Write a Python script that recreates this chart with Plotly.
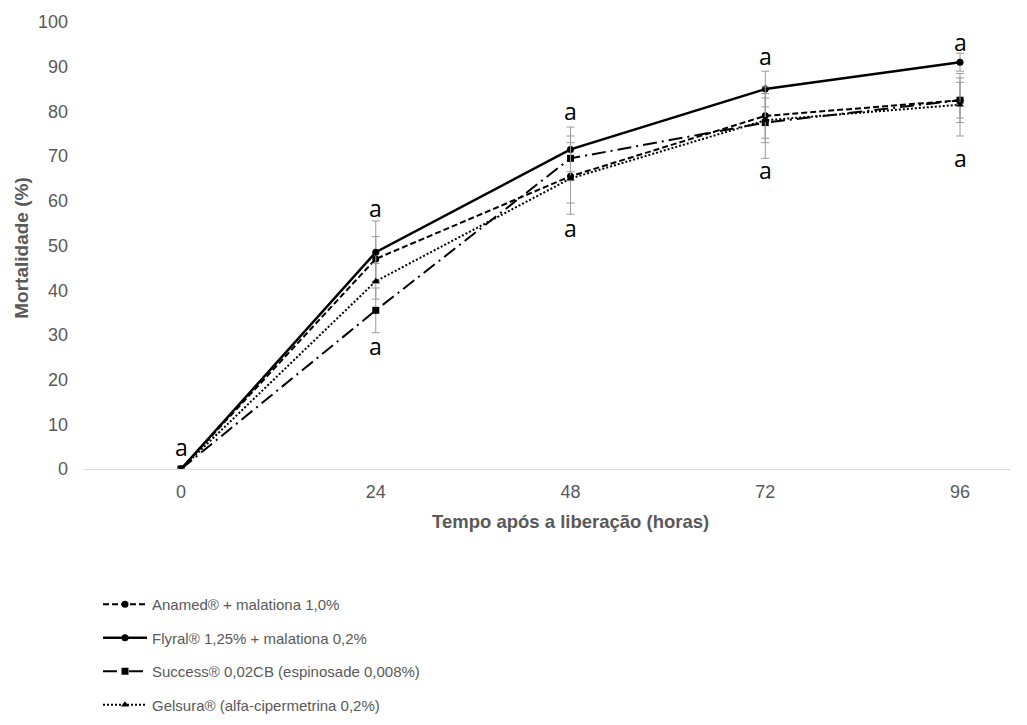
import plotly.graph_objects as go

hours = [0, 24, 48, 72, 96]

series_names = [
    "Anamed® + malationa 1,0%",
    "Flyral® 1,25% + malationa 0,2%",
    "Success® 0,02CB (espinosade 0,008%)",
    "Gelsura® (alfa-cipermetrina 0,2%)",
]
anamed = [0, 47.0, 65.5, 79.0, 82.5]
flyral = [0, 48.5, 71.5, 85.0, 91.0]
success = [0, 35.5, 69.5, 77.5, 82.5]
gelsura = [0, 42.0, 65.0, 78.0, 81.5]

anamed_err = [0, 5.0, 6.0, 5.0, 5.0]
flyral_err = [0, 7.0, 5.0, 4.0, 2.0]
success_err = [0, 5.0, 5.0, 8.0, 4.0]
gelsura_err = [0, 4.0, 8.0, 5.0, 7.0]

letter_x = [0, 24, 24, 48, 48, 72, 72, 96, 96]
letter_y = [5, 58.5, 27.5, 80, 54, 92.5, 67, 95.5, 69.5]
letter_text = ["a"] * 9

x_title = "Tempo após a liberação (horas)"
y_title = "Mortalidade (%)"

values = [anamed, flyral, success, gelsura]
errors = [anamed_err, flyral_err, success_err, gelsura_err]
dashes = ["6px,3px", "solid", "14px,5px,2px,5px", "2px,2px"]
symbols = ["circle", "circle", "square", "triangle-up"]
widths = [2, 2.5, 2, 2]

fig = go.Figure()
for i in range(4):
    fig.add_trace(go.Scatter(
        x=hours, y=values[i], name=series_names[i], mode="lines+markers",
        legendgroup=str(i),
        line=dict(color="black", width=widths[i], dash=dashes[i]),
        marker=dict(color="black", size=7, symbol=symbols[i]),
        error_y=dict(type="data", array=errors[i], color="#9a9a9a",
                     thickness=1, width=4),
    ))

for xv, yv, t in zip(letter_x, letter_y, letter_text):
    fig.add_annotation(x=xv, y=yv, text=t, showarrow=False,
                       font=dict(family="Open Sans", size=23, color="black"))

# axis titles
fig.add_annotation(x=48, xref="x", y=(469 - 521) / 447, yref="paper",
                   text="<b>" + x_title + "</b>", showarrow=False,
                   yanchor="middle",
                   font=dict(size=18.5, color="#595959"))
fig.add_annotation(x=(22 - 83) / 927, xref="paper", y=0.495, yref="paper",
                   text="<b>" + y_title + "</b>", showarrow=False,
                   textangle=-90, xanchor="center", yanchor="middle",
                   font=dict(size=19, color="#595959"))

fig.update_layout(
    width=1027, height=725,
    margin=dict(l=83, r=17, t=22, b=256, autoexpand=False),
    plot_bgcolor="white", paper_bgcolor="white",
    font=dict(family="Liberation Sans, Arial", color="#595959", size=18),
    showlegend=True,
    legend=dict(xref="container", yref="container", x=98 / 1027,
                y=1 - 588 / 725,
                xanchor="left", yanchor="top", traceorder="grouped",
                tracegroupgap=11, itemwidth=44,
                font=dict(size=15, color="#595959"),
                bgcolor="rgba(0,0,0,0)"),
    xaxis=dict(range=[-12.08, 102.16], tickvals=hours,
               ticktext=[str(h) for h in hours],
               showgrid=False, zeroline=False, showline=True,
               linecolor="#d9d9d9", linewidth=1, ticks="",
               ticklabelstandoff=6),
    yaxis=dict(range=[0, 100], tickvals=list(range(0, 101, 10)),
               showgrid=False, zeroline=False, showline=False, ticks="",
               ticklabelstandoff=14),
)

fig.write_html("out.html")
